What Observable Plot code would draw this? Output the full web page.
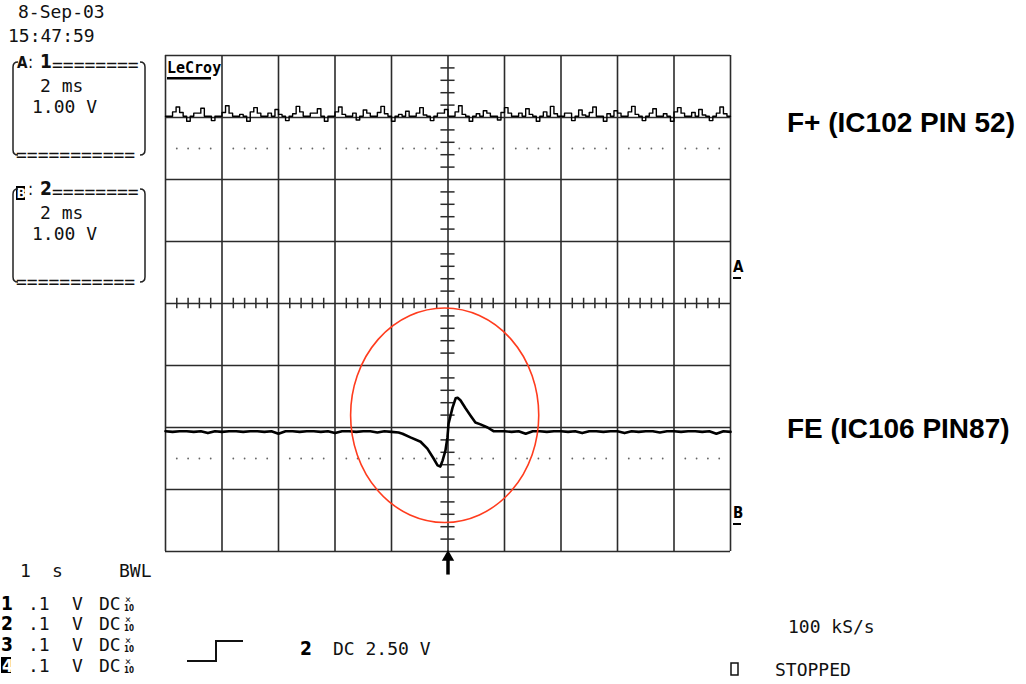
<!DOCTYPE html>
<html>
<head>
<meta charset="utf-8">
<script src="https://cdn.jsdelivr.net/npm/d3@7"></script>
<script src="https://cdn.jsdelivr.net/npm/@observablehq/plot@0.6"></script>
<style>
html,body{margin:0;padding:0;background:#fff;overflow:hidden;}
#wrap{position:relative;width:1026px;height:684px;}
</style>
</head>
<body>
<div id="wrap"></div>
<script>
// ---------------- data ----------------
// time axis: 2 ms/div, 10 divisions; vertical: 1.00 V/div, 8 divisions
const xTicks = [-10, -8, -6, -4, -2, 0, 2, 4, 6, 8, 10];
const yTicks = [-4, -3, -2, -1, 0, 1, 2, 3, 4];

// Trace A (F+), sampled every 0.125 ms from -10 ms
const traceAStart = -10;
const traceAStep = 0.125;
const traceA = [
  3.02, 3.02, 3.09, 3.17, 3.08, 3.02, 2.94, 3.02, 3.07, 3.07,
  3.15, 3.02, 3.02, 2.95, 3.02, 3.02, 3.08, 3.19, 3.07, 3.02,
  3.02, 3.05, 3.02, 2.94, 3.09, 3.16, 3.07, 3.02, 3.02, 3.07,
  3.02, 3.13, 3.05, 3.02, 2.95, 3.02, 3.06, 3.18, 3.09, 3.02,
  3.02, 3.07, 3.07, 3.14, 3.02, 2.94, 3.02, 3.02, 3.09, 3.17,
  3.05, 3.02, 3.02, 3.07, 2.96, 3.02, 3.12, 3.07, 3.02, 3.02,
  3.08, 3.18, 3.06, 3.02, 2.94, 3.02, 3.05, 3.02, 3.10, 3.02,
  3.02, 3.07, 3.16, 3.04, 3.02, 2.95, 3.02, 3.07, 3.07, 3.13,
  3.02, 3.02, 3.09, 3.19, 3.05, 3.02, 2.94, 3.02, 3.06, 3.02,
  3.11, 3.07, 3.02, 3.02, 2.96, 3.08, 3.16, 3.07, 3.02, 3.02,
  3.07, 3.02, 3.14, 3.05, 3.02, 2.94, 3.02, 3.09, 3.02, 3.18,
  3.06, 3.02, 3.02, 3.07, 3.07, 2.95, 3.02, 3.12, 3.04, 3.02,
  3.08, 3.17, 3.02, 3.02, 2.94, 3.06, 3.02, 3.11, 3.07, 3.02,
  3.02, 3.09, 3.18, 3.05, 3.02, 2.95, 3.02, 3.07, 3.14, 3.02,
  3.02, 3.06, 3.02, 2.94, 3.09, 3.16, 3.07, 3.02, 3.02, 3.08,
  3.02, 3.13, 3.04, 3.02, 2.95, 3.02, 3.07, 3.17, 3.06, 3.02,
  3.02
];

// Trace B (FE): baseline before the event, every 0.25 ms from -10 ms
const traceBPreStart = -10;
const traceBStep = 0.25;
const traceBPre = [
  -2.06, -2.07, -2.06, -2.06, -2.07, -2.06, -2.09, -2.06, -2.07, -2.06,
  -2.06, -2.07, -2.06, -2.06, -2.07, -2.06, -2.10, -2.06, -2.06, -2.07,
  -2.06, -2.06, -2.07, -2.06, -2.09, -2.06, -2.06, -2.07, -2.06, -2.06,
  -2.08, -2.06, -2.07, -2.08
];
// the focus-error event around the trigger
const pulseT = [-1.61, -1.33, -0.97, -0.73, -0.51, -0.37, -0.27, -0.19, -0.09, -0.02, 0.02,
                0.16, 0.27, 0.34, 0.44, 0.62, 0.80, 0.97, 1.15, 1.40, 1.61];
const pulseV = [-2.10, -2.16, -2.23, -2.34, -2.50, -2.61, -2.63, -2.53, -2.37, -2.16, -1.94,
                -1.68, -1.53, -1.52, -1.56, -1.69, -1.81, -1.92, -1.95, -2.00, -2.06];
// baseline after the event, every 0.25 ms from 1.75 ms
const traceBPostStart = 1.75;
const traceBPost = [
  -2.06, -2.06, -2.07, -2.06, -2.10, -2.06, -2.06, -2.07, -2.06, -2.06,
  -2.07, -2.06, -2.09, -2.06, -2.06, -2.07, -2.06, -2.06, -2.09, -2.06,
  -2.07, -2.06, -2.06, -2.08, -2.06, -2.06, -2.07, -2.06, -2.06, -2.07,
  -2.06, -2.10, -2.06, -2.07
];

// red highlight ellipse (centre and radii in ms / V)
const focusT = [-0.1];
const focusV = [-1.81];
const focusRT = [3.33];
const focusRV = [1.73];

const channelLabels = ["F+ (IC102 PIN 52)", "FE (IC106 PIN87)"];

// ---------------- build ----------------
const A = traceA.map((v, i) => ({t: traceAStart + i * traceAStep, v}));
const B = [
  ...traceBPre.map((v, i) => ({t: traceBPreStart + i * traceBStep, v})),
  ...pulseT.map((t, i) => ({t, v: pulseV[i]})),
  ...traceBPost.map((v, i) => ({t: traceBPostStart + i * traceBStep, v}))
];
const minorX = d3.range(0, 51).filter(i => i % 5).map(i => -10 + i * 0.4);
const minorY = d3.range(0, 41).filter(i => i % 5).map(i => -4 + i * 0.2);
const dotRows = [2.5, -2.5];
const dots = dotRows.flatMap(v => minorX.map(t => ({t, v})));

const GRID = "#2b2b2b";
const W = 1026, H = 684;
const mL = 165, mR = 296, mT = 55, mB = 133;

const ellipseMark = (index, scales) => {
  const sx = scales && scales.x ? scales.x : d3.scaleLinear([-10, 10], [mL, W - mR]);
  const sy = scales && scales.y ? scales.y : d3.scaleLinear([-4, 4], [H - mB, mT]);
  const e = document.createElementNS("http://www.w3.org/2000/svg", "ellipse");
  const cx = sx(focusT[0]), cy = sy(focusV[0]);
  e.setAttribute("cx", cx);
  e.setAttribute("cy", cy);
  e.setAttribute("rx", Math.abs(sx(focusT[0] + focusRT[0]) - cx));
  e.setAttribute("ry", Math.abs(cy - sy(focusV[0] + focusRV[0])));
  e.setAttribute("fill", "none");
  e.setAttribute("stroke", "#ff3c1e");
  e.setAttribute("stroke-width", 1.6);
  return e;
};

const plot = Plot.plot({
  width: W,
  height: H,
  marginLeft: mL,
  marginRight: mR,
  marginTop: mT,
  marginBottom: mB,
  style: {background: "white", overflow: "visible"},
  x: {domain: [-10, 10], axis: null},
  y: {domain: [-4, 4], axis: null},
  marks: [
    Plot.ruleX(xTicks, {stroke: GRID, strokeWidth: 1.6}),
    Plot.ruleY(yTicks, {stroke: GRID, strokeWidth: 1.6}),
    Plot.ruleX(minorX, {y1: -0.085, y2: 0.085, stroke: GRID, strokeWidth: 1.5}),
    Plot.ruleY(minorY, {x1: -0.25, x2: 0.25, stroke: GRID, strokeWidth: 1.5}),
    Plot.dot(dots, {x: "t", y: "v", r: 0.9, fill: "#666", stroke: null}),
    Plot.line(A, {x: "t", y: "v", curve: "step-after", stroke: "#000", strokeWidth: 1.4}),
    Plot.line(B, {x: "t", y: "v", stroke: "#000", strokeWidth: 2.6}),
    ellipseMark,
    Plot.ruleX([0], {y1: -4.1, y2: -4.38, stroke: "#000", strokeWidth: 3.5}),
    Plot.dot([{t: 0, v: -4.09}], {x: "t", y: "v", symbol: "triangle", r: 4.6, fill: "#000", stroke: null})
  ]
});
document.getElementById("wrap").appendChild(plot);

// ---------------- scope annotations (text) ----------------
const MONO = "'DejaVu Sans Mono', monospace";
const COND = "'DejaVu Sans Condensed', 'DejaVu Sans', sans-serif";
const SANS = "'Liberation Sans', Arial, Helvetica, sans-serif";
const g = d3.select(plot).append("g");
function T(x, y, s, o = {}) {
  return g.append("text")
    .attr("x", x).attr("y", y)
    .attr("fill", o.fill || "#111")
    .attr("text-anchor", o.anchor || "start")
    .style("font-family", o.family || MONO)
    .style("font-size", (o.size || 18) + "px")
    .style("font-weight", o.weight || "normal")
    .text(s);
}
function R(x, y, w, h, fill) {
  g.append("rect").attr("x", x).attr("y", y).attr("width", w).attr("height", h).attr("fill", fill);
}

T(18, 18, "8-Sep-03");
T(8, 42, "15:47:59");

// channel boxes
function box(dy, letter, num, inverted) {
  if (inverted) {
    R(16, 59 + dy, 9, 14, "#000");
    T(16.5, 71 + dy, letter, {family: COND, size: 14, weight: "bold", fill: "#fff"});
  } else {
    T(17, 68 + dy, letter, {family: COND, size: 15, weight: "bold"});
  }
  T(28, 68 + dy, ":", {family: COND, size: 17});
  T(40, 68 + dy, num, {family: COND, size: 19, weight: "bold"});
  T(52, 71 + dy, "========");
  T(40, 92 + dy, "2 ms");
  T(32, 113 + dy, "1.00 V");
  T(16, 161 + dy, "===========");
  const path = `M18,${62 + dy} Q13,${62 + dy} 13,${67 + dy} V${150 + dy} Q13,${155 + dy} 18,${155 + dy}` +
               ` M140,${62 + dy} Q145,${62 + dy} 145,${67 + dy} V${150 + dy} Q145,${155 + dy} 140,${155 + dy}`;
  g.append("path").attr("d", path).attr("fill", "none").attr("stroke", "#222").attr("stroke-width", 1.5);
}
box(0, "A", "1", false);
box(127, "B", "2", true);

// LeCroy logo
T(167, 73, "LeCroy", {size: 15, weight: "bold", fill: "#000"});
R(167, 77, 44, 2.5, "#000");

// trace markers
T(733, 272, "A", {family: COND, size: 15, weight: "bold", fill: "#000"});
R(733, 277, 8, 2, "#000");
T(733, 518, "B", {family: COND, size: 15, weight: "bold", fill: "#000"});
R(733, 523, 8, 2, "#000");

// channel labels
T(787, 132, channelLabels[0], {family: SANS, size: 28, weight: "bold", fill: "#000"});
T(787, 438, channelLabels[1], {family: SANS, size: 28, weight: "bold", fill: "#000"});

// bottom left settings
T(20, 577, "1");
T(52, 577, "s");
T(119, 577, "BWL");
const rowsY = [610, 630, 651, 672];
const rowsN = ["1", "2", "3", "4"];
rowsY.forEach((yb, i) => {
  if (i === 3) {
    R(1, yb - 15, 10, 16, "#000");
    T(2, yb, rowsN[i], {family: COND, size: 18, weight: "bold", fill: "#fff"});
  } else {
    T(1, yb, rowsN[i], {family: COND, size: 19, weight: "bold", fill: "#000"});
  }
  T(28, yb, ".1");
  T(72, yb, "V");
  T(99, yb, "DC");
  T(125, yb - 7, "×", {size: 10});
  T(124, yb + 1, "10", {family: COND, size: 8, weight: "bold"});
});

// trigger symbol
g.append("polyline").attr("points", "187,661 216,661 216,641 243,641")
  .attr("fill", "none").attr("stroke", "#111").attr("stroke-width", 2);
T(300, 655, "2", {family: COND, size: 19, weight: "bold", fill: "#000"});
T(333, 655, "DC 2.50 V");

// right bottom
T(788, 633, "100 kS/s");
g.append("rect").attr("x", 731).attr("y", 663).attr("width", 7).attr("height", 12)
  .attr("fill", "none").attr("stroke", "#111").attr("stroke-width", 1.5);
T(775, 676, "STOPPED");
</script>
</body>
</html>
